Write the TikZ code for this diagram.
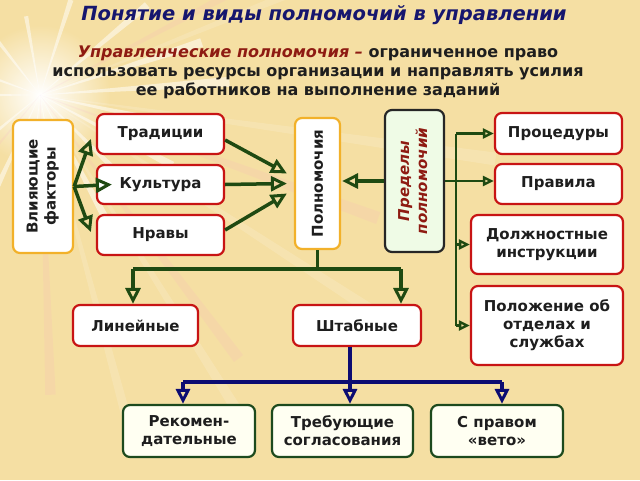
\documentclass[tikz,border=0pt]{standalone}
\usepackage{fontspec}
\setmainfont{DejaVu Sans}
\usetikzlibrary{arrows.meta,calc}

\definecolor{bgc}{HTML}{F5DFA3}
\definecolor{navy}{HTML}{16166E}
\definecolor{dred}{HTML}{8E1B12}
\definecolor{txt}{HTML}{1E1E1E}
\definecolor{redb}{HTML}{C81414}
\definecolor{orab}{HTML}{F2B12A}
\definecolor{grn}{HTML}{1F4A12}
\definecolor{grnb}{HTML}{1D4A1D}
\definecolor{ivory}{HTML}{FFFFF2}
\definecolor{mint}{HTML}{EFFBE6}
\definecolor{blu}{HTML}{0C0C72}

\newcommand\boxfont{\bfseries\fontsize{15}{18}\selectfont}

\tikzset{
  box/.style={draw=redb, line width=2.2pt, fill=white, rounded corners=7pt,
    font=\boxfont, text=txt, align=center, inner sep=0pt},
  obox/.style={box, draw=orab},
  gbox/.style={box, draw=grnb, fill=ivory},
  pbox/.style={box, draw=black!85, fill=mint, text=dred},
  gline/.style={color=grn, line width=3.5pt},
  garr/.style={gline, -{Triangle[open,length=16pt,width=15pt,line width=3pt]}},
  sarr/.style={color=grn, line width=2.6pt, -{Triangle[open,length=11pt,width=10pt,line width=2.4pt]}},
  bline/.style={color=blu, line width=3.5pt},
  barr/.style={bline, -{Triangle[open,length=15pt,width=14pt,line width=3pt]}},
}

\begin{document}
\begin{tikzpicture}[x=1pt,y=-1pt]
  \useasboundingbox (0,0) rectangle (640,480);

  % background with light rays
  \fill[bgc] (0,0) rectangle (640,480);
  \coordinate (S) at (40,95);
  \shade[inner color=white, outer color=bgc] (S) circle (70);
  \foreach \a/\l in {-160/70,-128/90,-100/80,-72/100,-40/140,-18/170,-4/190,
                     12/160,28/150,45/130,62/140,80/120,96/110,115/100,140/80,180/50}
    \fill[white, opacity=.5] (S) -- ($(S)+(\a-1.5:\l)$) -- ($(S)+(\a+1.5:\l)$) -- cycle;
  \foreach \a/\l in {-22/420,8/460,33/420,58/380,75/330}
    \fill[white, opacity=.15] (S) -- ($(S)+(\a-.8:\l)$) -- ($(S)+(\a+.8:\l)$) -- cycle;
  \foreach \a/\l in {-28/300,20/360,53/330,88/300,130/160}
    \fill[magenta!40, opacity=.1] (S) -- ($(S)+(\a-1:\l)$) -- ($(S)+(\a+1:\l)$) -- cycle;

  % heading
  \node[font=\bfseries\itshape\fontsize{19.5}{23}\selectfont, text=navy] (ttl) at (324,15)
    {Понятие и виды полномочий в управлении};
  \node[font=\bfseries\fontsize{16}{19}\selectfont, text=txt, align=center] (def) at (318,72)
    {{\itshape\color{dred}Управленческие полномочия –} ограниченное право\\
     использовать ресурсы организации и направлять усилия\\
     ее работников на выполнение заданий};

  % factors
  \node[obox, minimum width=60pt, minimum height=133pt] (vf) at (43,186.5)
    {\rotatebox{90}{\begin{tabular}{@{}c@{}}Влияющие\\факторы\end{tabular}}};
  \node[box, minimum width=127pt, minimum height=40pt] (tr) at (160.5,134)   {Традиции};
  \node[box, minimum width=127pt, minimum height=39pt] (ku) at (160.5,184.5) {Культура};
  \node[box, minimum width=127pt, minimum height=40pt] (nr) at (160.5,235)   {Нравы};

  % authority and its limits
  \node[obox, minimum width=45pt, minimum height=131pt] (pol) at (317.5,183.5)
    {\rotatebox{90}{Полномочия}};
  \node[pbox, minimum width=59pt, minimum height=142pt] (pred) at (414.5,181)
    {\rotatebox{90}{\itshape\begin{tabular}{@{}c@{}}Пределы\\полномочий\end{tabular}}};
  \node[box, minimum width=127pt, minimum height=41pt] (pr) at (558.5,133.5) {Процедуры};
  \node[box, minimum width=127pt, minimum height=40pt] (pv) at (558.5,184)   {Правила};
  \node[box, minimum width=152pt, minimum height=59pt] (dl) at (547,244.5)
    {Должностные\\инструкции};
  \node[box, minimum width=152pt, minimum height=79pt] (po) at (547,325.5)
    {Положение об\\отделах и\\службах};

  % kinds
  \node[box, minimum width=125pt, minimum height=41pt] (li) at (135.5,325.5) {Линейные};
  \node[box, minimum width=128pt, minimum height=41pt] (sh) at (357,325.5)   {Штабные};
  \node[gbox, minimum width=132pt, minimum height=52pt] (rk) at (189,431)
    {Рекомен-\\дательные};
  \node[gbox, minimum width=141pt, minimum height=52pt] (tb) at (342.5,431)
    {Требующие\\согласования};
  \node[gbox, minimum width=132pt, minimum height=52pt] (sp) at (497,431)
    {С правом\\«вето»};

  % connectors
  \coordinate (tk) at (456,0);
  \coordinate (gl) at (133,269);
  \coordinate (gr) at (401,269);
  \coordinate (nl) at (183,382);
  \coordinate (nm) at (350,382);
  \coordinate (nr') at (502,382);

  \path[garr] (vf.east) edge ($(tr.west)+(-5,5)$)
                        edge ($(ku.west)+(16,0)$)
                        edge ($(nr.west)+(-5,-3)$)
              ($(tr.east)+(0,6)$)  edge ($(pol.west)+(-7,-10)$)
              (ku.east)            edge ($(pol.west)+(-7,0)$)
              ($(nr.east)+(0,-5)$) edge ($(pol.west)+(-7,10)$)
              (pred.west)          edge ($(pred.west -| pol.east)+(1,0)$);

  \draw[gline, line width=2.8pt] (pr.west -| tk) -- (po.west -| tk);
  \path[sarr] (pred.east) edge (pred.east -| pv.west)
              (pr.west -| tk) edge (pr.west)
              (dl.west -| tk) edge (dl.west)
              (po.west -| tk) edge (po.west);

  \draw[gline] (pol.south) -- (pol.south |- gl);
  \draw[gline] (gl) -- (gr);
  \path[garr] (gl) edge (li.north -| gl)
              (gr) edge (sh.north -| gr);

  \draw[bline] (nl) -- (nr');
  \path[barr] (sh.south -| nm) edge (tb.north -| nm)
              (nl) edge (rk.north -| nl)
              (nr') edge (sp.north -| nr');
\end{tikzpicture}
\end{document}
